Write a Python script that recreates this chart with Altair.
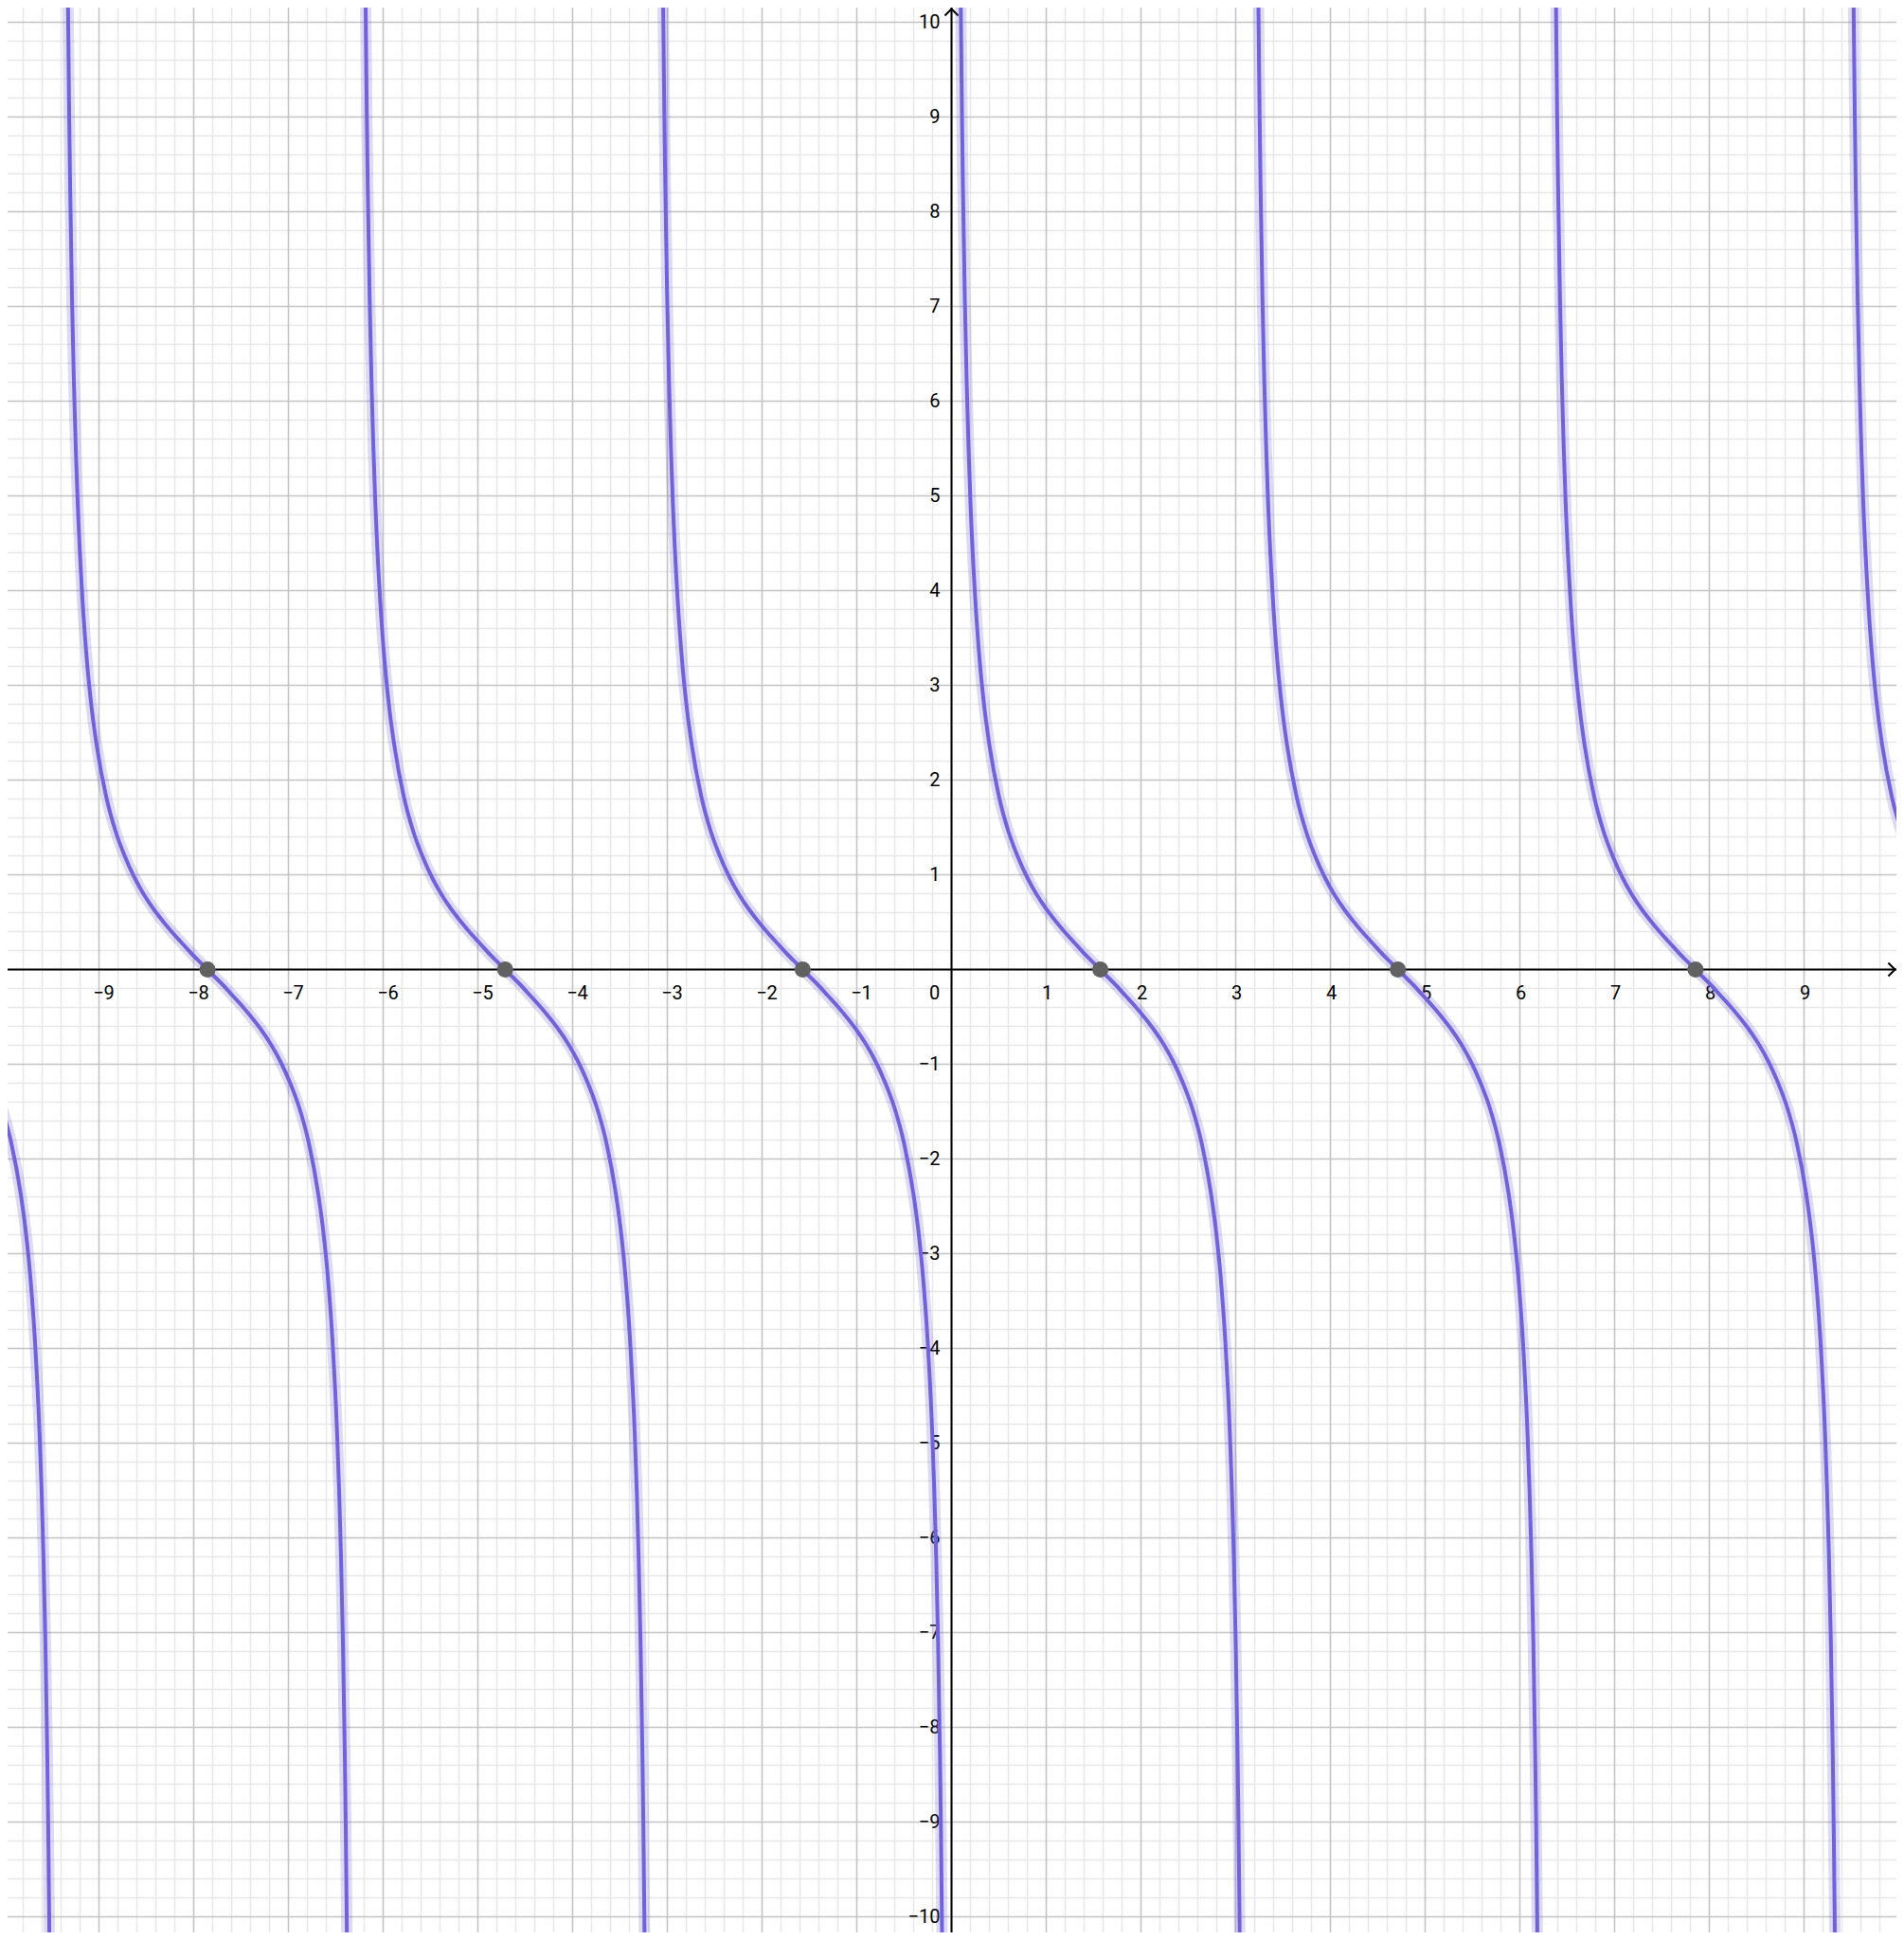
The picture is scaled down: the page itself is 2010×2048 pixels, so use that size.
import altair as alt
import pandas as pd
import numpy as np

# ---- data ----
# vertical asymptotes of the curve (x positions)
asymptotes = [-12.566, -9.425, -6.283, -3.142, 0.0, 3.142, 6.283, 9.425]
# one branch of the curve: offset from its left asymptote, and y value
branch_u = [0.09, 0.10, 0.11, 0.12, 0.14, 0.16, 0.18, 0.20, 0.25, 0.30, 0.35, 0.40,
            0.50, 0.60, 0.70, 0.80, 0.90, 1.00, 1.10, 1.20, 1.30, 1.40, 1.50, 1.571,
            1.64, 1.74, 1.84, 1.94, 2.04, 2.14, 2.24, 2.34, 2.44, 2.54, 2.64, 2.74,
            2.79, 2.84, 2.89, 2.94, 2.96, 2.98, 3.00, 3.02, 3.03, 3.04, 3.05]
branch_y = [11.08, 9.97, 9.05, 8.29, 7.10, 6.20, 5.50, 4.93, 3.92, 3.23, 2.74, 2.37,
            1.83, 1.46, 1.19, 0.97, 0.79, 0.64, 0.51, 0.39, 0.28, 0.17, 0.07, 0.00,
            -0.07, -0.17, -0.28, -0.39, -0.51, -0.64, -0.79, -0.97, -1.19, -1.46, -1.83, -2.37,
            -2.74, -3.23, -3.92, -4.93, -5.50, -6.20, -7.10, -8.29, -9.05, -9.97, -11.08]
# marked zeros
zeros_x = [-7.854, -4.712, -1.571, 1.571, 4.712, 7.854]

# tick labels
x_neg_vals = [-9, -8, -7, -6, -5, -4, -3, -2, -1]
x_neg_labels = ["−9", "−8", "−7", "−6", "−5", "−4", "−3", "−2", "−1"]
x_pos_vals = [1, 2, 3, 4, 5, 6, 7, 8, 9]
x_pos_labels = ["1", "2", "3", "4", "5", "6", "7", "8", "9"]
y_vals = [-10, -9, -8, -7, -6, -5, -4, -3, -2, -1, 1, 2, 3, 4, 5, 6, 7, 8, 9, 10]
y_labels = ["−10", "−9", "−8", "−7", "−6", "−5", "−4", "−3", "−2", "−1",
            "1", "2", "3", "4", "5", "6", "7", "8", "9", "10"]

# ---- tables ----
rows = []
for bi, a in enumerate(asymptotes):
    for u, yv in zip(branch_u, branch_y):
        rows.append({"x": a + u, "y": yv, "branch": bi})
curve = pd.DataFrame(rows)
pts = pd.DataFrame({"x": zeros_x, "y": [0.0] * len(zeros_x)})

minor_x = [v for v in np.round(np.arange(-9.8, 10.0, 0.2), 1) if abs(v - round(v)) > 1e-6]
minor_y = [v for v in np.round(np.arange(-10.0, 10.2, 0.2), 1) if abs(v - round(v)) > 1e-6]
major_x = list(range(-9, 10))
major_y = list(range(-10, 11))

XD = [-9.965, 9.975]
YD = [-10.165, 10.155]
xs = alt.Scale(domain=XD, nice=False, zero=False)
ys = alt.Scale(domain=YD, nice=False, zero=False)

FONT = "Roboto"
FS = 20

minor_v = alt.Chart(pd.DataFrame({"v": minor_x})).mark_rule(
    color="#e8e8e8", strokeWidth=1.5).encode(x=alt.X("v:Q", scale=xs, axis=None))
minor_h = alt.Chart(pd.DataFrame({"v": minor_y})).mark_rule(
    color="#e8e8e8", strokeWidth=1.5).encode(y=alt.Y("v:Q", scale=ys, axis=None))
major_v = alt.Chart(pd.DataFrame({"v": major_x})).mark_rule(
    color="#c4c4c4", strokeWidth=1.6).encode(x=alt.X("v:Q", scale=xs, axis=None))
major_h = alt.Chart(pd.DataFrame({"v": major_y})).mark_rule(
    color="#c4c4c4", strokeWidth=1.6).encode(y=alt.Y("v:Q", scale=ys, axis=None))

axis_x = alt.Chart(pd.DataFrame({"v": [0]})).mark_rule(
    color="black", strokeWidth=2).encode(y=alt.Y("v:Q", scale=ys, axis=None))
axis_y = alt.Chart(pd.DataFrame({"v": [0]})).mark_rule(
    color="black", strokeWidth=2).encode(x=alt.X("v:Q", scale=xs, axis=None))

arrow_r = alt.Chart(pd.DataFrame({"x": [XD[1] - 0.015], "y": [0]})).mark_point(
    shape="M -1 -1 L 0 0 L -1 1", filled=False, stroke="black", strokeWidth=2,
    size=200, opacity=1).encode(x=alt.X("x:Q", scale=xs, axis=None),
                                y=alt.Y("y:Q", scale=ys, axis=None))
arrow_t = alt.Chart(pd.DataFrame({"x": [0], "y": [YD[1] - 0.015]})).mark_point(
    shape="M -1 1 L 0 0 L 1 1", filled=False, stroke="black", strokeWidth=2,
    size=200, opacity=1).encode(x=alt.X("x:Q", scale=xs, axis=None),
                                y=alt.Y("y:Q", scale=ys, axis=None))

def xlab(vals, labels, dx):
    return alt.Chart(pd.DataFrame({"v": vals, "t": labels, "z": [0] * len(vals)})).mark_text(
        font=FONT, fontSize=FS, color="black", align="center", baseline="middle",
        dx=dx, dy=25).encode(x=alt.X("v:Q", scale=xs, axis=None),
                             y=alt.Y("z:Q", scale=ys, axis=None), text="t:N")

xl_neg = xlab(x_neg_vals, x_neg_labels, 5)
xl_pos = xlab(x_pos_vals, x_pos_labels, 1)
xl_zero = xlab([0], ["0"], -18)
yl = alt.Chart(pd.DataFrame({"v": y_vals, "t": y_labels, "z": [0] * len(y_vals)})).mark_text(
    font=FONT, fontSize=FS, color="black", align="right", baseline="middle",
    dx=-12).encode(x=alt.X("z:Q", scale=xs, axis=None),
                   y=alt.Y("v:Q", scale=ys, axis=None), text="t:N")

halo = alt.Chart(curve).mark_line(
    color="#6557D2", strokeWidth=12, opacity=0.22, clip=True, interpolate="monotone").encode(
    x=alt.X("x:Q", scale=xs, axis=None), y=alt.Y("y:Q", scale=ys, axis=None),
    detail="branch:N", order="x:Q")
line = alt.Chart(curve).mark_line(
    color="#7062d8", strokeWidth=4, clip=True, interpolate="monotone").encode(
    x=alt.X("x:Q", scale=xs, axis=None), y=alt.Y("y:Q", scale=ys, axis=None),
    detail="branch:N", order="x:Q")
points = alt.Chart(pts).mark_circle(color="#616161", size=290, opacity=1).encode(
    x=alt.X("x:Q", scale=xs, axis=None), y=alt.Y("y:Q", scale=ys, axis=None))

chart = alt.layer(
    minor_v, minor_h, major_v, major_h, axis_x, axis_y, arrow_r, arrow_t,
    xl_neg, xl_pos, xl_zero, yl, halo, line, points
).properties(
    width=1994, height=2032, padding=0,
    autosize=alt.AutoSizeParams(type="none"),
    background="white"
).configure_view(strokeWidth=0)

chart.save("out.html", embed_options={"renderer": "svg", "actions": False})
